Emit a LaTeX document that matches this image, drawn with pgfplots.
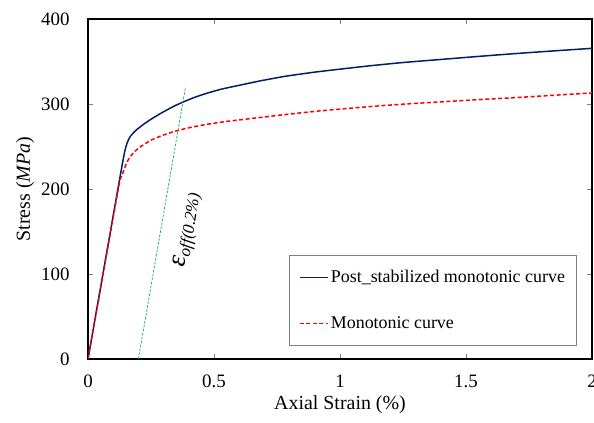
\documentclass[border=0pt]{standalone}
\usepackage{pgfplots}
\pgfplotsset{compat=1.18}
\usepackage{fontspec}
\setmainfont{Liberation Serif}
\definecolor{navy}{HTML}{002060}
\definecolor{exred}{HTML}{FF0000}
\definecolor{exgreen}{HTML}{00B050}
\begin{document}
\fontsize{19}{22}\selectfont
\begin{tikzpicture}[font=\fontsize{19}{22}\selectfont]
\begin{axis}[
  scale only axis, width=504bp, height=340bp,
  xmin=0, xmax=2, ymin=0, ymax=400,
  xtick={0,0.5,1,1.5,2}, xticklabels={0,0.5,1,1.5,2},
  ytick={0,100,200,300,400},
  /pgf/number format/assume math mode=true,
  tick align=inside, major tick length=5bp,
  tick style={gray, line width=0.6bp},
  axis line style={black, line width=1.5bp},
  tick label style={font=\fontsize{19}{22}\selectfont},
  label style={font=\fontsize{20}{23}\selectfont},
  xticklabel style={anchor=north, yshift=-9.5bp},
  yticklabel style={anchor=east, xshift=-12bp},
  xlabel={Axial Strain (\%)},
  ylabel={Stress (\textit{MPa})},
  xlabel style={at={(axis description cs:0.5,-0.135)}, anchor=center},
  ylabel style={at={(axis description cs:-0.125,0.5)}, anchor=center},
  legend image code/.code={\draw[#1, line width=1.5bp] (0bp,0bp) -- (28bp,0bp);},
  legend style={at={(0.970,0.306)}, anchor=north east,
    draw=gray, line width=0.8bp, inner xsep=10bp, inner ysep=13bp,
    row sep=28bp, column sep=1bp, nodes={inner sep=1.5bp},
    cells={anchor=west}, font=\fontsize{18}{21}\selectfont},
]
\addplot[navy, line width=1.5bp, smooth, tension=0.3] coordinates {
(0,0) (0.127,214) (0.145,243) (0.155,254) (0.167,261.5) (0.18,266)
(0.194,270) (0.22,276) (0.247,281.5) (0.28,287.5) (0.313,293)
(0.345,298) (0.379,302.5) (0.42,307.5) (0.47,312.5) (0.53,317.5)
(0.6,322) (0.68,327) (0.78,332.5) (0.9,337.5) (1.0,341) (1.12,345)
(1.25,348.8) (1.4,352.4) (1.55,356) (1.7,359.4) (1.85,362.5) (2.0,365.5)};
\addlegendentry{Post\_stabilized monotonic curve}
\addplot[exred, line width=1.5bp, dash pattern=on 4bp off 2.5bp, smooth, tension=0.3] coordinates {
(0,0) (0.12,200) (0.134,215) (0.147,226) (0.16,234.5) (0.18,242.5)
(0.2,248) (0.22,252) (0.25,257.5) (0.29,262.5) (0.34,267.5) (0.4,272)
(0.47,276) (0.55,279.5) (0.65,283) (0.78,287.5) (0.9,291.3) (1.0,294)
(1.12,297) (1.25,299.8) (1.4,302.5) (1.55,305.1) (1.7,307.6) (1.85,310.3) (2.0,313)};
\addlegendentry{Monotonic curve}
\addplot[exgreen, line width=0.7bp, dash pattern=on 2.5bp off 1.5bp, forget plot] coordinates {(0.2,0) (0.387,320)};
\node[rotate=81, anchor=center] at (axis cs:0.395,152)
  {\fontsize{27}{27}\selectfont\textit{ε}\raisebox{-0.3ex}{\fontsize{17}{17}\selectfont\textit{off(0.2\%)}}};
\end{axis}
\pgfresetboundingbox
\path[use as bounding box] (-88bp,-64bp) rectangle (506bp,359bp);
\end{tikzpicture}
\end{document}
